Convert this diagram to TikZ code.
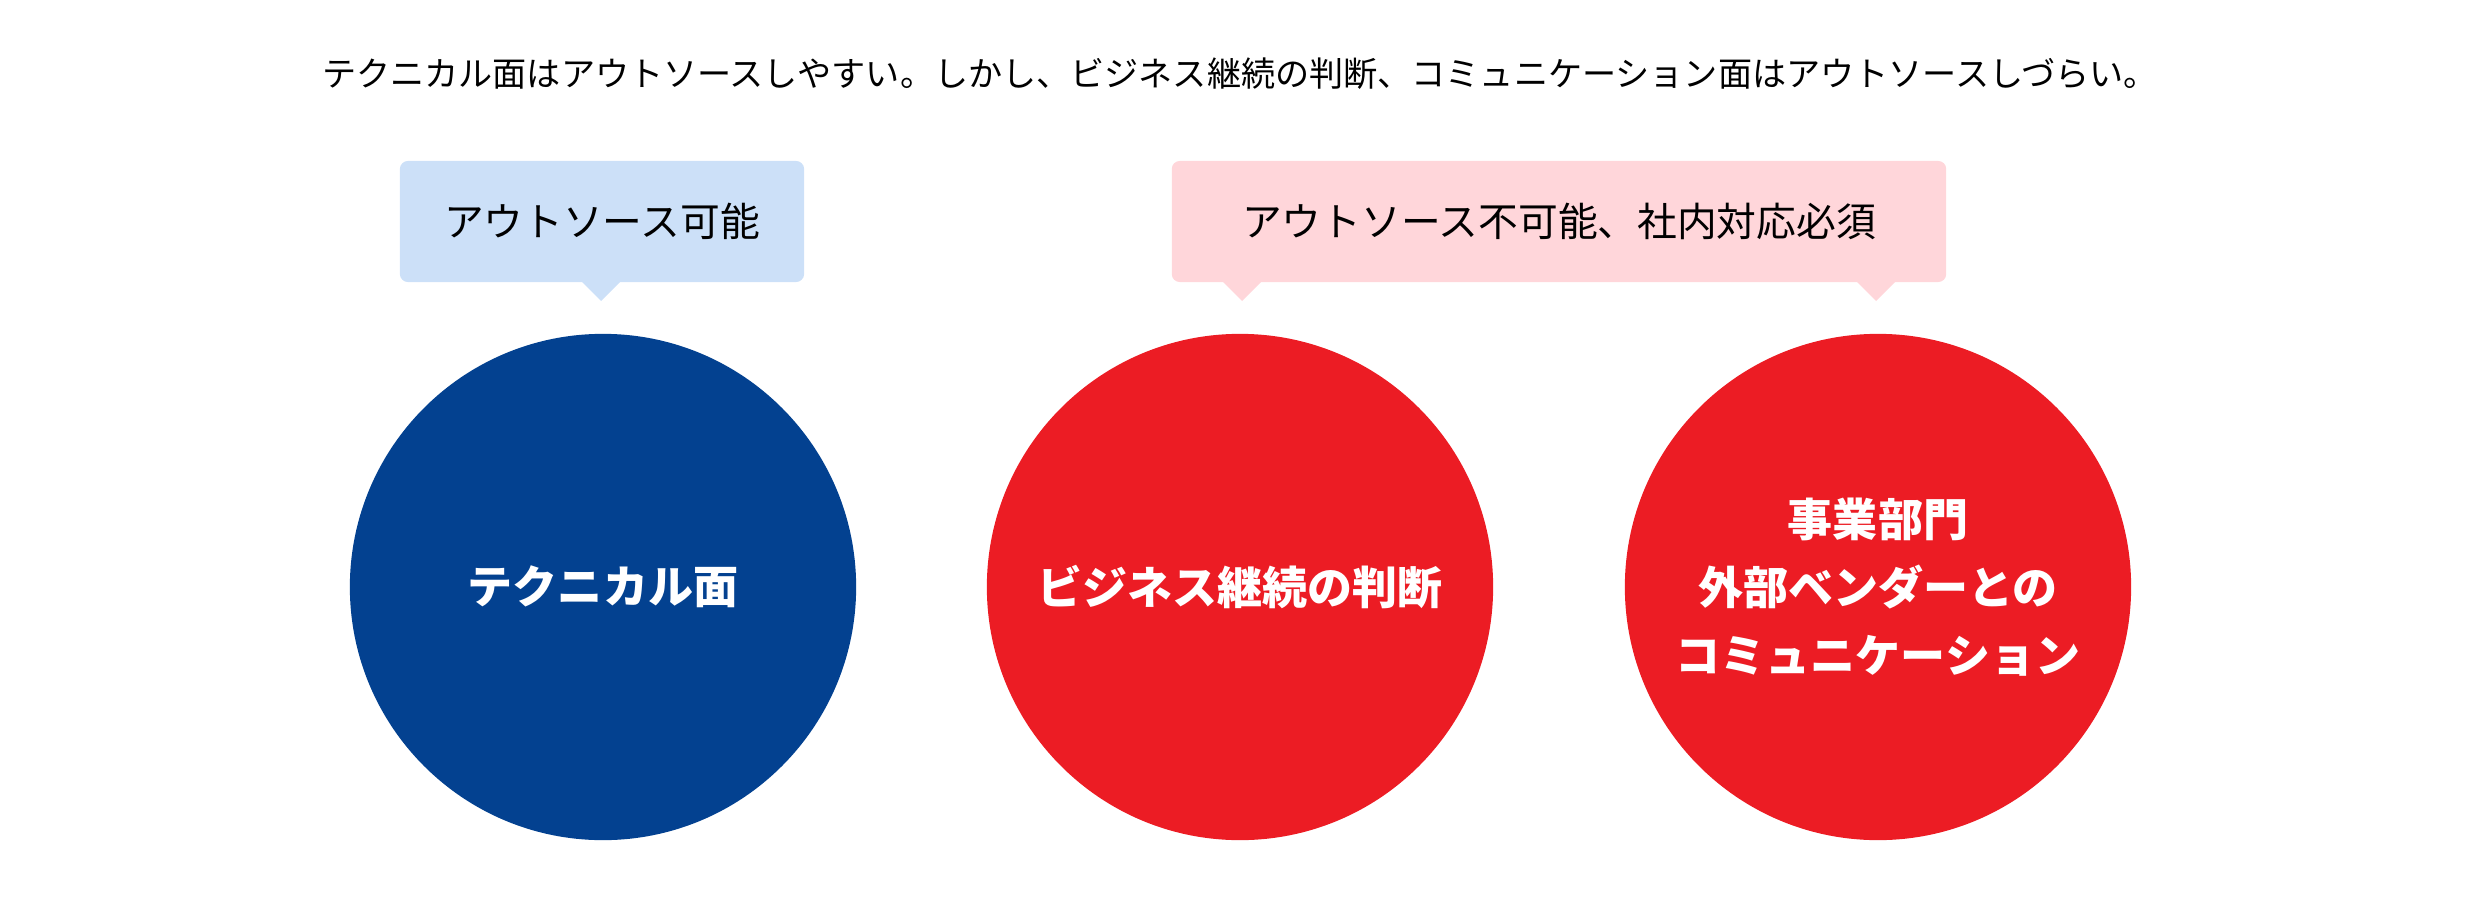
\documentclass[tikz,border=0pt]{standalone}
\usepackage{fontspec}
\newfontfamily\jp{Noto Sans CJK JP}
\definecolor{cblue}{HTML}{034190}
\definecolor{cred}{HTML}{EC1C24}
\definecolor{lblue}{HTML}{CCE0F8}
\definecolor{lpink}{HTML}{FFD6DA}
\begin{document}
\begin{tikzpicture}[x=0.01cm,y=-0.01cm,
  circ/.style={circle,minimum size=5.06cm,inner sep=0pt,text=white,font=\jp\bfseries\fontsize{12.8}{19.3}\selectfont,align=center},
  callout/.style={rounded corners=0.08cm,minimum height=1.21cm,font=\jp\fontsize{11.3}{14}\selectfont}]
\useasboundingbox (0,0) rectangle (2480,900);
\node[font=\jp\fontsize{9.7}{12}\selectfont] (title) at (1240,74) {テクニカル面はアウトソースしやすい。しかし、ビジネス継続の判断、コミュニケーション面はアウトソースしづらい。};
% callouts
\fill[lblue] (601,301) -- (581,281) -- (621,281) -- cycle;
\node[callout,fill=lblue,minimum width=4.04cm] (c1) at (602,221.5) {アウトソース可能};
\fill[lpink] (1242,301) -- (1222,281) -- (1262,281) -- cycle;
\fill[lpink] (1876,301) -- (1856,281) -- (1896,281) -- cycle;
\node[callout,fill=lpink,minimum width=7.74cm] (c2) at (1559,221.5) {アウトソース不可能、社内対応必須};
% circles
\node[circ,fill=cblue] (a) at (603,587) {テクニカル面};
\node[circ,fill=cred] (b) at (1240,587) {ビジネス継続の判断};
\node[circ,fill=cred] (c) at (1878,587) {事業部門\\外部ベンダーとの\\コミュニケーション};
\end{tikzpicture}
\end{document}
